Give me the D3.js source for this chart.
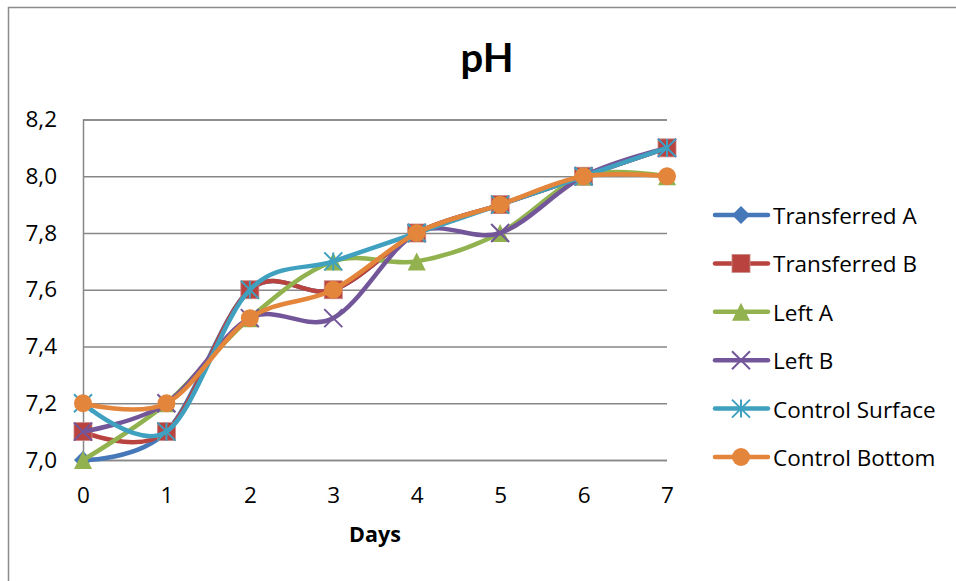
<!DOCTYPE html>
<html>
<head>
<meta charset="utf-8">
<script src="https://cdn.jsdelivr.net/npm/d3@7"></script>
<style>
  html, body { margin: 0; padding: 0; background: #fff; }
  svg { display: block; font-family: "Open Sans", Lato, sans-serif; }
</style>
</head>
<body>
<svg id="chart" width="956" height="581"></svg>
<script>
// Days of measurement
const days = [0, 1, 2, 3, 4, 5, 6, 7];

// pH readings per sample
const transferredA  = [7.0, 7.1, 7.6, 7.6, 7.8, 7.9, 8.0, 8.1];
const transferredB  = [7.1, 7.1, 7.6, 7.6, 7.8, 7.9, 8.0, 8.1];
const leftA         = [7.0, 7.2, 7.5, 7.7, 7.7, 7.8, 8.0, 8.0];
const leftB         = [7.1, 7.2, 7.5, 7.5, 7.8, 7.8, 8.0, 8.1];
const controlSurface = [7.2, 7.1, 7.6, 7.7, 7.8, 7.9, 8.0, 8.1];
const controlBottom = [7.2, 7.2, 7.5, 7.6, 7.8, 7.9, 8.0, 8.0];

const seriesNames = ["Transferred A", "Transferred B", "Left A", "Left B", "Control Surface", "Control Bottom"];
const seriesValues = [transferredA, transferredB, leftA, leftB, controlSurface, controlBottom];
const yTicks = [7.0, 7.2, 7.4, 7.6, 7.8, 8.0, 8.2];

const colors = ["#4677B8", "#B9433F", "#91B24F", "#73569A", "#3FA1BF", "#E3853B"];
const markers = ["diamond", "square", "triangle", "x", "asterisk", "circle"];

const labelFont = "'Open Sans', sans-serif";
const labelSize = 22.5;

const svg = d3.select("#chart");

// outer chart frame
svg.append("path")
  .attr("d", "M8.5,581 V7.5 H956")
  .attr("fill", "none").attr("stroke", "#8c8c8c").attr("stroke-width", 1.5);

const x = d3.scaleLinear().domain([0, 7]).range([83, 667]);
const y = d3.scaleLinear().domain([7.0, 8.2]).range([460, 119.5]);

// horizontal gridlines
const grid = svg.append("g")
  .attr("transform", "translate(83,0)")
  .call(d3.axisLeft(y).tickValues(yTicks).tickSize(-(667 - 83)).tickFormat(""));
grid.selectAll(".tick line").attr("stroke", "#878787").attr("stroke-width", 1.5);
grid.select(".domain").attr("stroke", "#878787").attr("stroke-width", 1.5);

// y tick labels with decimal comma
const fmt = v => d3.format(".1f")(v).replace(".", ",");
const yAxis = svg.append("g")
  .attr("transform", "translate(83,0)")
  .call(d3.axisLeft(y).tickValues(yTicks).tickSize(0).tickPadding(26).tickFormat(fmt));
yAxis.select(".domain").remove();
yAxis.selectAll("text").attr("font-size", labelSize).attr("fill", "#000").attr("font-family", labelFont);

// x tick labels
const xAxis = svg.append("g")
  .attr("transform", "translate(0,460)")
  .call(d3.axisBottom(x).tickValues(days).tickSize(0).tickPadding(27).tickFormat(d3.format("d")));
xAxis.select(".domain").remove();
xAxis.selectAll("text").attr("font-size", labelSize).attr("fill", "#000").attr("font-family", labelFont);

// title and axis title
svg.append("text").attr("x", 487).attr("y", 72).attr("text-anchor", "middle")
  .attr("font-family", "Lato, sans-serif")
  .attr("font-size", 40).attr("font-weight", "bold").text("pH");
svg.append("text").attr("x", 375).attr("y", 542).attr("text-anchor", "middle")
  .attr("font-family", labelFont)
  .attr("font-size", 21.5).attr("font-weight", "bold").text("Days");

function drawMarker(g, type, cx, cy, color) {
  const s = 9;
  if (type === "diamond") {
    g.append("path").attr("d", `M${cx},${cy - s} L${cx + s},${cy} L${cx},${cy + s} L${cx - s},${cy} Z`).attr("fill", color);
  } else if (type === "square") {
    g.append("rect").attr("x", cx - s).attr("y", cy - s).attr("width", 2 * s).attr("height", 2 * s)
      .attr("fill", color).attr("stroke", "#c98a88").attr("stroke-width", 0.8);
  } else if (type === "triangle") {
    g.append("path").attr("d", `M${cx},${cy - s} L${cx + s},${cy + s} L${cx - s},${cy + s} Z`).attr("fill", color);
  } else if (type === "x") {
    g.append("path").attr("d", `M${cx - s},${cy - s} L${cx + s},${cy + s} M${cx - s},${cy + s} L${cx + s},${cy - s}`)
      .attr("stroke", color).attr("stroke-width", 2).attr("fill", "none");
  } else if (type === "asterisk") {
    g.append("path").attr("d", `M${cx - s},${cy - s} L${cx + s},${cy + s} M${cx - s},${cy + s} L${cx + s},${cy - s} M${cx},${cy - s} L${cx},${cy + s}`)
      .attr("stroke", color).attr("stroke-width", 2).attr("fill", "none");
  } else if (type === "circle") {
    g.append("circle").attr("cx", cx).attr("cy", cy).attr("r", s).attr("fill", color);
  }
}

// smoothed series lines with markers
const line = d3.line()
  .x((d, i) => x(days[i]))
  .y(d => y(d))
  .curve(d3.curveCardinal.tension(0));

seriesValues.forEach((vals, k) => {
  const g = svg.append("g");
  g.append("path").attr("d", line(vals))
    .attr("fill", "none").attr("stroke", colors[k]).attr("stroke-width", 4.5)
    .attr("stroke-linecap", "round").attr("stroke-linejoin", "round");
  vals.forEach((v, i) => drawMarker(g, markers[k], x(days[i]), y(v), colors[k]));
});

// legend
const legend = svg.append("g");
seriesNames.forEach((name, k) => {
  const ly = 215 + k * 48.4;
  const g = legend.append("g");
  g.append("line").attr("x1", 715).attr("x2", 768).attr("y1", ly).attr("y2", ly)
    .attr("stroke", colors[k]).attr("stroke-width", 4.5).attr("stroke-linecap", "round");
  drawMarker(g, markers[k], 741, ly, colors[k]);
  g.append("text").attr("x", 773).attr("y", ly + 9).attr("font-size", labelSize)
    .attr("font-family", labelFont).attr("fill", "#000").text(name);
});
</script>
</body>
</html>
